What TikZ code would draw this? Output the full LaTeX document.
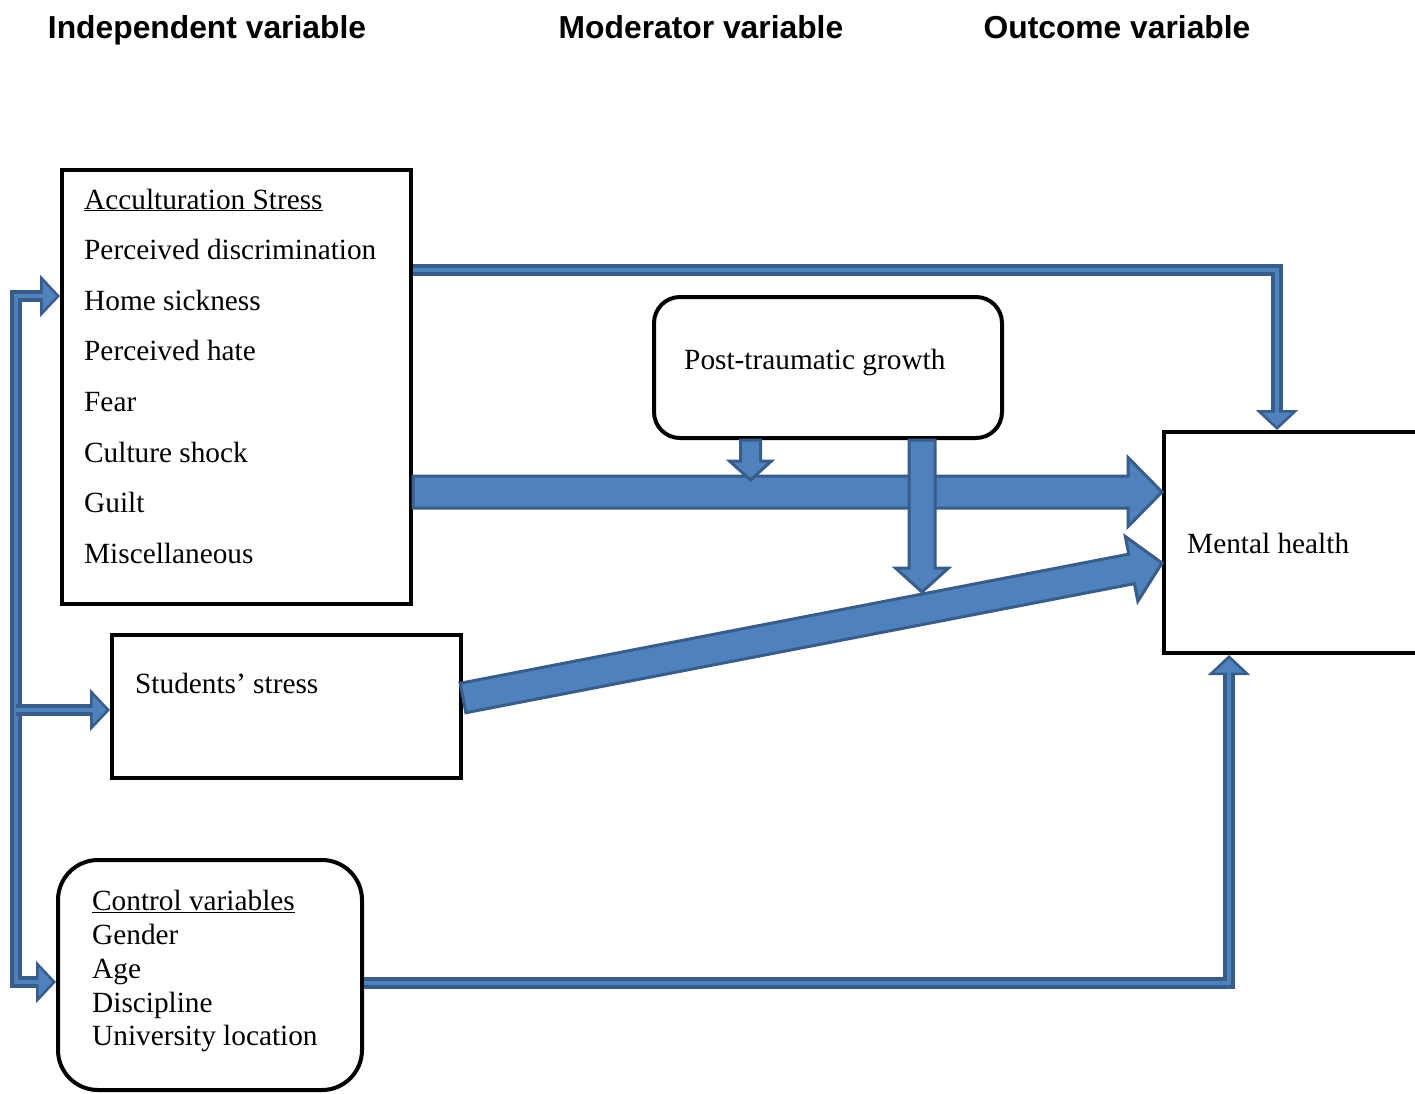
\documentclass[tikz,border=0pt]{standalone}
\usepackage{fontspec}
\setmainfont{Liberation Serif}
\newfontfamily\headfont{Liberation Sans}
\usetikzlibrary{arrows.meta,calc}

\definecolor{arrowfill}{HTML}{4F81BD}
\definecolor{arrowline}{HTML}{385D8A}

\tikzset{
  box/.style={draw=black, line width=4pt, inner sep=0pt},
  bodytext/.style={font=\fontsize{29.3}{34}\selectfont, inner sep=0pt, anchor=base west},
  headtext/.style={font=\headfont\bfseries\fontsize{31.8}{38}\selectfont, inner sep=0pt, anchor=base},
  blockarrow/.style={fill=arrowfill, draw=arrowline, line width=3pt, line join=miter},
  conntip/.tip={Triangle[width=42pt,length=20pt,line width=2.5pt,fill=arrowfill]},
  conn/.style={draw=arrowline, line width=12.5pt, line join=miter,
    postaction={draw=arrowfill, line width=4.5pt, arrows=-, shorten >=7pt}},
  connboth/.style={draw=arrowline, line width=12.5pt, line join=miter,
    postaction={draw=arrowfill, line width=4.5pt, arrows=-, shorten >=7pt, shorten <=7pt}},
}

% block arrow from #1 to #2: shaft half width #3, head half width #4, head length #5
\newcommand{\blockarr}[5]{%
  \coordinate (ba-hb) at ($(#2)!#5!(#1)$);
  \draw[blockarrow]
    ($(#1)!#3!90:(#2)$) -- ($(ba-hb)!#3!90:(#2)$) -- ($(ba-hb)!#4!90:(#2)$)
    -- (#2)
    -- ($(ba-hb)!#4!-90:(#2)$) -- ($(ba-hb)!#3!-90:(#2)$) -- ($(#1)!#3!-90:(#2)$)
    -- cycle;
}

\begin{document}
\begin{tikzpicture}[x=1pt, y=-1pt]
\useasboundingbox (0,0) rectangle (1415,1093);

% column headings
\node[headtext] (h1) at (207,38) {Independent variable};
\node[headtext] (h2) at (701,38) {Moderator variable};
\node[headtext] (h3) at (1117,38) {Outcome variable};

% boxes
\node[box, minimum width=349pt, minimum height=434pt] (acc) at (236.5,387) {};
\node[box, minimum width=349pt, minimum height=143pt] (ss) at (286.5,706.5) {};
\node[box, rounded corners=40pt, minimum width=304pt, minimum height=230pt] (ctrl) at (210,975) {};
\node[box, rounded corners=26pt, minimum width=348pt, minimum height=141pt] (ptg) at (828,367.5) {};
\node[box, minimum width=262pt, minimum height=221pt] (mh) at (1295,542.5) {};

% box texts
\node[bodytext] (acc-t1) at (84,209) {\underline{Acculturation Stress}};
\node[bodytext] (acc-t2) at (84,259.6) {Perceived discrimination};
\node[bodytext] (acc-t3) at (84,310.2) {Home sickness};
\node[bodytext] (acc-t4) at (84,360.8) {Perceived hate};
\node[bodytext] (acc-t5) at (84,411.4) {Fear};
\node[bodytext] (acc-t6) at (84,462) {Culture shock};
\node[bodytext] (acc-t7) at (84,512.6) {Guilt};
\node[bodytext] (acc-t8) at (84,563.2) {Miscellaneous};

\node[bodytext] (ss-t) at (135,693) {Students’ stress};
\node[bodytext] (ptg-t) at (684,369) {Post-traumatic growth};
\node[bodytext] (mh-t) at (1187,553) {Mental health};

\node[bodytext] (ctrl-t1) at (92,910) {\underline{Control variables}};
\node[bodytext] (ctrl-t2) at (92,944) {Gender};
\node[bodytext] (ctrl-t3) at (92,978) {Age};
\node[bodytext] (ctrl-t4) at (92,1012) {Discipline};
\node[bodytext] (ctrl-t5) at (92,1045) {University location};

% end points of the block arrows
\coordinate (big-s) at (acc.east |- 0,492);
\coordinate (big-t) at (mh.west |- 0,492);
\coordinate (diag-s) at (ss.east |- 0,698);
\coordinate (diag-t) at (mh.west |- 0,563);
\coordinate (small-s) at (750.5,0 |- ptg.south);
\coordinate (small-t) at (750.5,480);
\coordinate (down-s) at (922,0 |- ptg.south);
\coordinate (down-t) at (922,592);

\blockarr{big-s}{big-t}{16pt}{34.5pt}{34pt}
\blockarr{diag-s}{diag-t}{15pt}{33pt}{31pt}
\blockarr{small-s}{small-t}{10pt}{21pt}{19pt}
\blockarr{down-s}{down-t}{13pt}{26.5pt}{24pt}

% thin connectors
\coordinate (acc-top) at (acc.east |- 0,270);
\coordinate (mh-top) at (1277,0 |- mh.north);
\draw[conn, -{conntip}] (acc-top) -| (mh-top);

\coordinate (acc-left) at (acc.west |- 0,296);
\coordinate (spine-bottom) at (16,982);
\coordinate (ctrl-left) at (ctrl.west |- 0,982);
\draw[connboth, {conntip}-{conntip}] (acc-left) -| (spine-bottom) -- (ctrl-left);

\coordinate (spine-mid) at (16,710);
\coordinate (ss-left) at (ss.west |- 0,710);
\draw[conn, -{conntip}] (spine-mid) -- (ss-left);

\coordinate (ctrl-right) at (ctrl.east |- 0,983);
\coordinate (mh-bottom) at (1229,0 |- mh.south);
\draw[conn, -{conntip}] (ctrl-right) -| (mh-bottom);
\end{tikzpicture}
\end{document}
